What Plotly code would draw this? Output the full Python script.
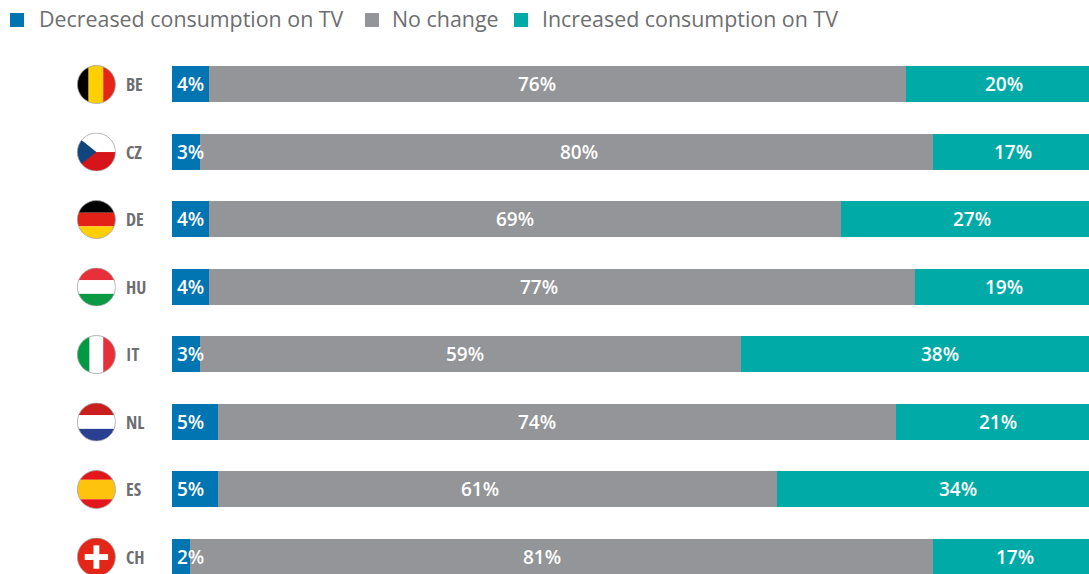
import base64
import plotly.graph_objects as go

countries = ["BE", "CZ", "DE", "HU", "IT", "NL", "ES", "CH"]
series_names = ["Decreased consumption on TV", "No change", "Increased consumption on TV"]
decreased = [4, 3, 4, 4, 3, 5, 5, 2]
no_change = [76, 80, 69, 77, 59, 74, 61, 81]
increased = [20, 17, 27, 19, 38, 21, 34, 17]
# Labels in the source are not centred in their segments: positions
no_change_label_pos = [39.8, 44.4, 37.4, 40.0, 32.0, 39.8, 33.6, 40.3]
increased_label_pos = [90.7, 91.7, 87.2, 90.7, 83.8, 90.1, 85.7, 91.9]

BLUE, GRAY, TEAL = "#0075B1", "#939598", "#00ABA7"
TEXT = "#6D6E71"
FONT = "Open Sans"

W, H = 1089, 574
L, T = 172, 50
PW = W - L
ROW = 67.5


def stripes_h(cols, stops):
    out, y = "", 0
    for c, s in zip(cols, stops):
        out += f'<rect x="0" y="{y}" width="40" height="{s}" fill="{c}"/>'
        y += s
    return out


def stripes_v(cols, stops):
    out, x = "", 0
    for c, s in zip(cols, stops):
        out += f'<rect x="{x}" y="0" width="{s}" height="40" fill="{c}"/>'
        x += s
    return out


flag_art = {
    "BE": stripes_v(["#000000", "#FFCF00", "#E42518"], [12, 15, 13]),
    "CZ": stripes_h(["#FFFFFF", "#D7141A"], [20, 20]) + '<polygon points="0,4 20,20 0,36" fill="#11457E"/>',
    "DE": stripes_h(["#000000", "#E32119", "#FFCF00"], [13, 14, 13]),
    "HU": stripes_h(["#E8303A", "#FFFFFF", "#0A9A43"], [13, 14, 13]),
    "IT": stripes_v(["#009A44", "#FFFFFF", "#E8303A"], [13, 14, 13]),
    "NL": stripes_h(["#C9201F", "#FFFFFF", "#28408F"], [13, 14, 13]),
    "ES": stripes_h(["#E3161B", "#FDC30D", "#E3161B"], [10, 20, 10]),
    "CH": stripes_h(["#E42618"], [40])
    + '<rect x="17" y="8" width="6" height="24" fill="#fff"/><rect x="8" y="17" width="24" height="6" fill="#fff"/>',
}


def flag_uri(code):
    svg = (
        '<svg xmlns="http://www.w3.org/2000/svg" width="160" height="160" viewBox="0 0 40 40">'
        '<defs><clipPath id="c"><circle cx="20" cy="20" r="19.5"/></clipPath></defs>'
        f'<g clip-path="url(#c)">{flag_art[code]}</g>'
        '<circle cx="20" cy="20" r="19.5" fill="none" stroke="#A0A0A0" stroke-width="0.8"/></svg>'
    )
    return "data:image/svg+xml;base64," + base64.b64encode(svg.encode()).decode()


fig = go.Figure()
for name, vals, col in zip(series_names, [decreased, no_change, increased], [BLUE, GRAY, TEAL]):
    fig.add_bar(
        name=name, y=list(range(len(countries))), x=vals, orientation="h",
        marker=dict(color=col, line_width=0), width=36 / ROW, showlegend=False,
    )

annotations, images, shapes = [], [], []
label_font = dict(family=FONT, size=19, color="white", weight=600)
for i, code in enumerate(countries):
    annotations.append(dict(x=0, y=i, xref="x", yref="y", text=f"{decreased[i]}%", showarrow=False,
                            xanchor="left", yanchor="middle", xshift=3, font=label_font))
    annotations.append(dict(x=no_change_label_pos[i], y=i, xref="x", yref="y", text=f"{no_change[i]}%",
                            showarrow=False, font=label_font))
    annotations.append(dict(x=increased_label_pos[i], y=i, xref="x", yref="y", text=f"{increased[i]}%",
                            showarrow=False, font=label_font))
    annotations.append(dict(x=(124 - L) / PW, y=i, xref="paper", yref="y",
                            text=f'<span style="font-stretch:condensed">{code}</span>', showarrow=False,
                            xanchor="left", yanchor="middle",
                            font=dict(family="Open Sans Condensed, Open Sans", size=18, color=TEXT, weight=700)))
    images.append(dict(source=flag_uri(code), xref="paper", yref="y", x=(96.4 - L) / PW, y=i + 0.008,
                       sizex=39 / PW, sizey=39 / ROW, xanchor="center", yanchor="middle",
                       sizing="stretch", layer="above"))

# Legend drawn to match the source placement
legend_swatch_px = [10, 365, 514]
legend_text_px = [37, 390, 540]
for name, col, sx, tx in zip(series_names, [BLUE, GRAY, TEAL], legend_swatch_px, legend_text_px):
    shapes.append(dict(type="rect", xref="paper", yref="paper", line_width=0, fillcolor=col,
                       x0=(sx - L) / PW, x1=(sx + 14 - L) / PW,
                       y0=(H - 27) / (H - T), y1=(H - 13) / (H - T)))
    annotations.append(dict(x=(tx - L) / PW, y=(H - 19) / (H - T), xref="paper", yref="paper", text=name,
                            showarrow=False, xanchor="left", yanchor="middle",
                            font=dict(family=FONT, size=21.4, color=TEXT)))

fig.update_layout(
    width=W, height=H, barmode="stack", margin=dict(l=L, r=0, t=T, b=0, pad=0),
    paper_bgcolor="white", plot_bgcolor="white", bargap=0,
    xaxis=dict(range=[0, 100], visible=False, fixedrange=True),
    yaxis=dict(range=[(H - 84) / ROW, -(84 - T) / ROW], visible=False, fixedrange=True),
    annotations=annotations, images=images, shapes=shapes,
    font=dict(family=FONT),
)
fig.write_html("out.html", config=dict(displayModeBar=False),
               post_script="document.body.style.margin='0';document.documentElement.style.overflow='hidden';")
